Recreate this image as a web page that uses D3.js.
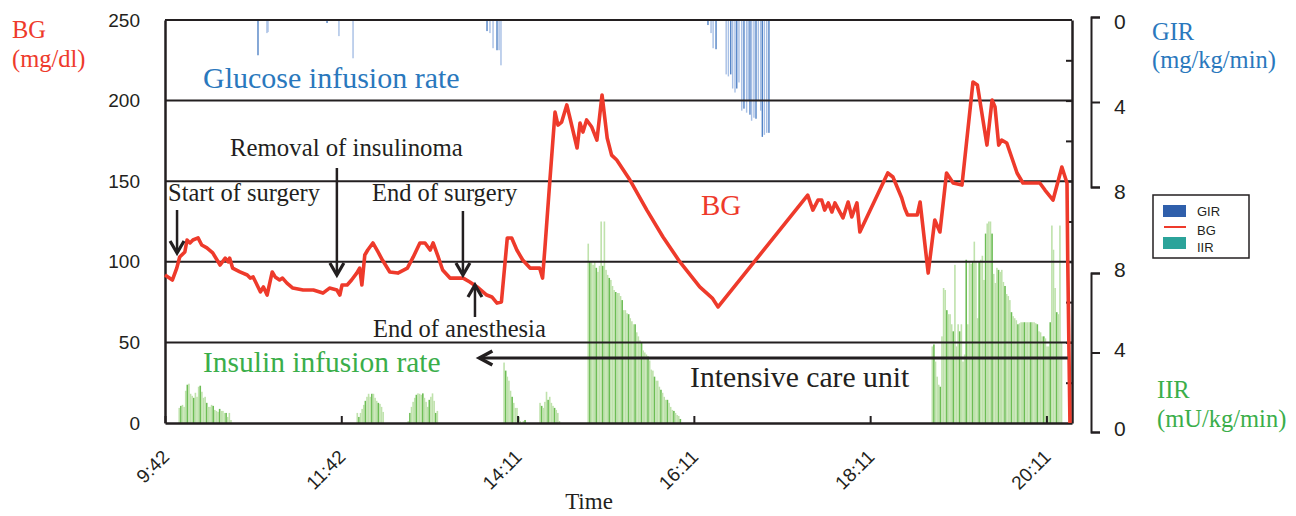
<!DOCTYPE html>
<html>
<head>
<meta charset="utf-8">
<script src="https://cdn.jsdelivr.net/npm/d3@7"></script>
<style>
body { margin: 0; background: #fff; }
text { font-family: "Liberation Serif", "Times New Roman", serif; }
.sans text, .tick text { font-family: "Liberation Sans", Arial, sans-serif; }
</style>
</head>
<body>
<div id="chart"></div>
<script>
const svgWidth = 1296,
    svgHeight = 516,
    plot = { left: 165, right: 1072, top: 20, bottom: 423 };

// time axis, minutes from 9:42 (each labelled slot is 120 min on the chart)
const timeTicks = [0, 120, 240, 360, 480, 600];
const timeLabels = ["9:42", "11:42", "14:11", "16:11", "18:11", "20:11"];
const bgTicks = [0, 50, 100, 150, 200, 250];
const girTicks = [0, 4, 8];
const iirTicks = [0, 4, 8];

// blood glucose, [minute, mg/dl]
const bgSeries = [
    [0, 91.8], [5, 88.7], [8, 96.1], [10, 103.0], [13.5, 106.1], [15, 113.5], [17, 111.7], [19, 113.5],
    [22.5, 114.8], [25, 110.4], [28.5, 108.6], [32.5, 105.5], [37.5, 98.0], [41, 102.3], [43, 99.9],
    [44, 102.3], [46, 96.1], [51, 93.7], [56, 91.8], [58, 89.9], [60, 90.6], [65, 81.3], [67, 84.4],
    [69.5, 79.4], [73, 93.7], [75, 90.6], [78, 88.7], [80, 89.9], [83, 86.8], [87, 83.7], [94, 82.5],
    [101, 82.5], [107.5, 80.6], [112, 83.7], [117, 82.5], [119, 79.4], [120.5, 85.6], [124, 85.6],
    [127, 88.7], [130.5, 93.0], [132.5, 96.1], [134, 85.6], [136, 104.2], [138, 107.3], [141.5, 111.7],
    [145, 106.1], [148, 101.1], [153, 93.7], [158.5, 93.0], [165, 96.1], [169, 103.0], [173.5, 111.7],
    [177, 111.7], [180.5, 107.3], [182.5, 111.7], [186, 103.0], [189, 94.9], [194, 89.9], [203, 89.9],
    [207.5, 87.5], [212.5, 84.4], [219, 79.4], [222.5, 78.2], [226, 74.4], [229, 75.1], [233, 114.8],
    [236, 114.8], [239.5, 107.3], [243.5, 101.1], [248.5, 96.1], [255, 96.1], [257, 89.9], [258.5, 107.3],
    [262, 150.7], [265.5, 192.9], [267.5, 184.8], [270, 186.7], [273.5, 197.3], [275.5, 189.8],
    [280.5, 170.6], [282.5, 186.1], [284.5, 180.5], [287, 188.0], [290.5, 183.6], [294, 175.5],
    [297.5, 203.5], [301, 176.8], [304, 166.2], [307.5, 163.1], [312, 156.9], [316.5, 150.7],
    [328, 132.1], [339, 115.4], [350.5, 99.9], [364, 84.4], [372.5, 77.5], [376.5, 72.0],
    [437.5, 141.4], [441, 132.1], [444.5, 138.3], [447, 138.3], [449, 132.1], [451.5, 136.5],
    [454, 130.9], [456, 136.5], [461.5, 127.2], [465, 137.1], [467.5, 127.8], [471, 136.5], [473, 118.5],
    [492, 155.1], [495.5, 152.6], [501.5, 139.6], [503.5, 133.4], [505.5, 129.0], [512, 129.0],
    [514, 137.1], [519.5, 93.0], [524, 125.9], [527.5, 118.5], [532, 155.1], [536.5, 148.9],
    [542.5, 147.6], [550, 211.5], [553, 209.7], [559.5, 172.4], [563, 200.4], [565, 196.0],
    [567.5, 172.4], [569.5, 175.5], [573, 173.7], [580, 155.1], [584, 148.9], [595.5, 148.9],
    [599, 144.5], [604.5, 138.3], [610.5, 158.8], [614, 148.9], [614.5, 101.1], [616, 0]
];

// glucose infusion rate, [minute, mg/kg/min]
const girBars = [
    [63.3, 1.75], [69.4, 0.65], [70.1, 0.6], [110.3, 0.15], [118.4, 0.8], [128, 1.9],
    [219.2, 0.55], [221.2, 0.65], [223.3, 1.4], [226, 1.5], [227.4, 1.5], [228.7, 2.25],
    [369.6, 0.25], [371.7, 0.65], [373.1, 1.4], [375.1, 1.45],
    [382, 2.7], [383.5, 2.8], [385.1, 2.7], [386.4, 3.4], [388, 3.6], [389.2, 3.4], [390.7, 3.1],
    [392.6, 4.5], [394.1, 4.4], [395.9, 4.6], [397, 4.0], [398.2, 4.7], [399.3, 5.0], [400.9, 4.85],
    [402.3, 4.9], [403.9, 4.0], [405.5, 4.5], [406.6, 5.8], [408, 5.7], [409.6, 5.6], [411.1, 5.6]
];

// insulin infusion rate, runs of samples every iirStep minutes (mU/kg/min)
const iirStep = 1.1;
const iirRuns = [
    { start: 9.7, values: [0.75, 0.85, 0.9, 0.8, 1.6, 1.9, 1.95, 1.45, 1.35, 1.25, 1.5, 1.3, 1.8, 1.85, 1.55, 1.25, 1.3,
        1.0, 0.8, 0.8, 0.9, 0.85, 0.65, 0.6, 0.55, 0.7, 0.6, 0.6, 0.5, 0.5, 0.3, 0.5, 0.15] },
    { start: 130.9, values: [0.5, 0.3, 0.5, 0.7, 0.9, 1.1, 1.3, 1.45, 1.3, 1.45, 1.45, 1.25, 1.1, 1.0, 0.95, 0.8, 0.55] },
    { start: 165.6, values: [0.1, 0.5, 0.8, 1.05, 1.25, 1.4, 1.47, 1.45, 1.4, 1.47, 1.25, 1.05, 0.8, 1.15, 1.3, 1.47, 1.1, 0.5, 0.6] },
    { start: 230.8, values: [3.0, 2.6, 2.3, 2.1, 1.6, 1.3, 1.0, 0.75, 0.75, 0.3, 0.1, 0, 0.1, 0.15] },
    { start: 255.3, values: [1.0, 0.85, 0.75, 1.05, 1.55, 1.15, 1.3, 1.0, 0.85, 0.75, 0.65, 0.5, 0.1] },
    { start: 288.1, values: [8.9, 8.0, 8.0, 7.85, 8.0, 7.7, 7.5, 7.8, 10.0, 7.8, 10.0, 7.6, 7.35, 7.2, 7.1, 6.8, 6.6, 6.5,
        6.45, 6.45, 6.3, 6.1, 5.6, 5.6, 5.45, 5.4, 5.2, 5.05, 4.9, 4.9, 4.5, 4.3, 4.1, 4.0, 3.6, 3.5, 3.4, 3.3, 3.1,
        2.65, 2.6, 2.3, 2.1, 2.1, 1.8, 1.65, 1.5, 1.3, 1.15, 1.15, 1.0, 0.8, 0.65, 0.6, 0.5, 0.4, 0.35, 0.2] },
    { start: 522.3, values: [3.8, 3.9, 3.05, 2.3, 1.9, 1.8, 4.3, 6.7, 6.6, 5.6, 5.4, 5.4, 4.9, 4.55, 7.85, 3.8, 4.9, 4.55,
        4.9, 3.05, 3.4, 8.1, 4.9, 8.0, 7.9, 8.0, 9.0, 8.0, 5.2, 8.0, 8.1, 8.3, 7.1, 9.4, 9.9, 10.0, 10.0, 9.4, 7.4,
        6.95, 7.7, 7.6, 7.5, 7.6, 7.0, 6.8, 6.4, 6.3, 6.1, 5.5, 5.3, 5.2, 5.1, 4.9, 4.95, 5.0, 5.0, 5.0, 5.0, 5.0,
        5.0, 5.0, 5.0, 5.0, 4.95, 4.9, 4.55, 4.5, 4.3, 4.3, 4.2, 3.8, 3.8, 5.0, 9.8, 8.6, 6.7, 5.5, 5.4, 9.8, 4.0] }
];

// events (minutes)
const eventStart = 8.2, eventRemoval = 117, eventEndSurgery = 202.8, eventEndAnesthesia = 211,
    icuStart = 214, icuEnd = 614.5;

const red = "#ee3a2b", blue = "#2a78bd", green = "#3aae4a", ink = "#231f20";

let svg = d3.select("#chart").append("svg")
    .attr("width", svgWidth)
    .attr("height", svgHeight);

// scales
let x = d3.scaleLinear().domain([0, 617.4]).range([plot.left, plot.right]);
let yBG = d3.scaleLinear().domain([0, 250]).range([plot.bottom, plot.top]);
let yGIR = d3.scaleLinear().domain([0, 8]).range([plot.top, yBG(150)]);     // hangs from the top
let yIIR = d3.scaleLinear().domain([0, 8]).range([plot.bottom, yBG(100)]);  // grows from the bottom
// bracket axes on the right are drawn a bit offset, as in the figure
let girAxisScale = d3.scaleLinear().domain([0, 8]).range([17, 187]);
let iirAxisScale = d3.scaleLinear().domain([0, 8]).range([432, 273]);

// IIR bars
let iirBars = iirRuns.flatMap(r => r.values.map((v, i) => ({ t: r.start + i * iirStep, v: v, k: i })));
svg.append("g").selectAll("rect")
    .data(iirBars)
    .join("rect")
    .attr("x", d => x(d.t) - 0.8)
    .attr("y", d => yIIR(d.v))
    .attr("width", 1.6)
    .attr("height", d => yIIR(0) - yIIR(d.v))
    .style("fill", d => d.k % 4 == 1 ? "#6dbd55" : "#bfe2ac");

// GIR bars
svg.append("g").selectAll("rect")
    .data(girBars)
    .join("rect")
    .attr("x", d => x(d[0]) - 0.7)
    .attr("y", yGIR(0))
    .attr("width", 1.4)
    .attr("height", d => yGIR(d[1]) - yGIR(0))
    .style("fill", (d, i) => i % 3 == 0 ? "#5283c6" : "#a7bfe5");

// gridlines
svg.append("g").selectAll("line")
    .data(bgTicks.slice(1))
    .join("line")
    .attr("x1", plot.left).attr("x2", plot.right)
    .attr("y1", d => yBG(d)).attr("y2", d => yBG(d))
    .style("stroke", ink)
    .style("stroke-width", 2);

// left axis
let leftAxis = svg.append("g")
    .attr("class", "sans")
    .attr("transform", `translate(${plot.left},0)`)
    .call(d3.axisLeft(yBG).tickValues(bgTicks).tickSize(0).tickPadding(25));
leftAxis.select(".domain").style("stroke", ink).style("stroke-width", 2.5);
leftAxis.selectAll("text").style("font-size", "19px").style("fill", ink);

// right frame with inward ticks
let rightFrame = svg.append("g")
    .attr("transform", `translate(${plot.right},0)`)
    .call(d3.axisRight(yBG).tickValues(d3.range(25, 250, 25)).tickSize(-6).tickSizeOuter(0).tickFormat(""));
rightFrame.select(".domain").style("stroke", ink).style("stroke-width", 2.5);
rightFrame.selectAll("line").style("stroke", ink).style("stroke-width", 2);

// time axis
let xAxis = svg.append("g")
    .attr("class", "sans")
    .attr("transform", `translate(0,${plot.bottom})`)
    .call(d3.axisBottom(x).tickValues(timeTicks).tickSize(-7).tickSizeOuter(0)
        .tickFormat((d, i) => timeLabels[i]));
xAxis.select(".domain").style("stroke", ink).style("stroke-width", 2.5);
xAxis.selectAll("line").style("stroke", ink).style("stroke-width", 2);
xAxis.selectAll("text")
    .attr("x", 0).attr("y", 0).attr("dy", 0)
    .attr("text-anchor", "end")
    .attr("transform", "translate(5,35) rotate(-45)")
    .style("font-size", "19px")
    .style("fill", ink);

svg.append("text")
    .attr("x", 589).attr("y", 509)
    .attr("text-anchor", "middle")
    .style("font-size", "23px")
    .style("fill", ink)
    .text("Time");

// blood glucose line
svg.append("path")
    .datum(bgSeries)
    .attr("d", d3.line().x(d => x(d[0])).y(d => yBG(d[1])))
    .style("fill", "none")
    .style("stroke", red)
    .style("stroke-width", 3.6)
    .style("stroke-linejoin", "round");

// right bracket axes
function bracketAxis(scale, ticks, shift) {
    let g = svg.append("g")
        .attr("class", "sans")
        .attr("transform", "translate(1091,0)")
        .call(d3.axisRight(scale).tickValues(ticks).tickSize(9).tickSizeOuter(9).tickPadding(14));
    g.select(".domain").style("stroke", ink).style("stroke-width", 2);
    g.selectAll("line").style("stroke", ink).style("stroke-width", 2);
    g.selectAll("text").attr("y", shift).style("font-size", "21px").style("fill", ink);
}
bracketAxis(girAxisScale, girTicks, 5);
bracketAxis(iirAxisScale, iirTicks, -3);

// axis titles
function label(txt, px, py, color, size) {
    svg.append("text")
        .attr("x", px).attr("y", py)
        .style("font-size", size + "px")
        .style("fill", color)
        .text(txt);
}
label("BG", 12, 38, red, 24.5);
label("(mg/dl)", 12, 67, red, 24.5);
label("GIR", 1152, 40, blue, 24.5);
label("(mg/kg/min)", 1152, 68, blue, 24.5);
label("IIR", 1157, 398, green, 24.5);
label("(mU/kg/min)", 1157, 427, green, 24.5);

// in-plot labels
label("Glucose infusion rate", 203, 88, blue, 30);
label("Insulin infusion rate", 203, 372, green, 29.5);
label("BG", 701, 215, red, 29);
label("Intensive care unit", 690, 387, ink, 29.7);
label("Start of surgery", 168, 201, ink, 24.5);
label("Removal of insulinoma", 230, 156, ink, 24.8);
label("End of surgery", 372, 201, ink, 24.5);
label("End of anesthesia", 373, 337, ink, 24.5);

// arrows
let arrows = svg.append("g")
    .style("fill", "none")
    .style("stroke", ink)
    .style("stroke-width", 2.5);
function vArrow(t, yFrom, yTo) {
    let px = x(t), dir = yTo > yFrom ? 1 : -1;
    arrows.append("line").attr("x1", px).attr("x2", px).attr("y1", yFrom).attr("y2", yTo);
    arrows.append("path")
        .style("stroke-width", 3.2)
        .attr("d", `M${px - 7},${yTo - dir * 12} L${px},${yTo} L${px + 7},${yTo - dir * 12}`);
}
vArrow(eventStart, 210, 253);
vArrow(eventRemoval, 168, 275);
vArrow(eventEndSurgery, 211, 275);
vArrow(eventEndAnesthesia, 317, 285);

// ICU arrow
let icuY = yBG(40.3);
arrows.append("line")
    .style("stroke-width", 3)
    .attr("x1", x(icuEnd)).attr("x2", x(icuStart))
    .attr("y1", icuY).attr("y2", icuY);
arrows.append("path")
    .style("stroke-width", 3.5)
    .attr("d", `M${x(icuStart) + 13},${icuY - 7} L${x(icuStart)},${icuY} L${x(icuStart) + 13},${icuY + 7}`);

// legend
let legend = svg.append("g").attr("class", "sans");
legend.append("rect")
    .attr("x", 1153).attr("y", 195).attr("width", 96).attr("height", 63)
    .style("fill", "#fff").style("stroke", ink).style("stroke-width", 1.5);
legend.append("rect").attr("x", 1163).attr("y", 205).attr("width", 23).attr("height", 12).style("fill", "#2f5fab");
legend.append("line").attr("x1", 1164).attr("x2", 1186).attr("y1", 227).attr("y2", 227)
    .style("stroke", red).style("stroke-width", 2);
legend.append("rect").attr("x", 1163).attr("y", 237).attr("width", 23).attr("height", 12).style("fill", "#2ba39a");
["GIR", "BG", "IIR"].forEach((t, i) => {
    legend.append("text")
        .attr("x", 1197).attr("y", [216, 235, 252][i])
        .style("font-size", "13px")
        .style("fill", ink)
        .text(t);
});
</script>
</body>
</html>
